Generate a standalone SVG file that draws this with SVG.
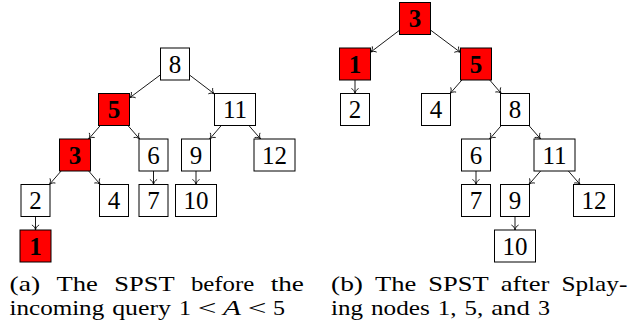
<svg xmlns="http://www.w3.org/2000/svg" width="630" height="324" viewBox="0 0 630 324" font-family="'Liberation Serif', 'DejaVu Serif', serif">
  <defs>
    <style>
      .box { stroke: #000; stroke-width: 1; }
      .w { fill: #fff; }
      .r { fill: #f00; }
      .lbl { font-family: 'Liberation Serif', 'DejaVu Serif', serif; font-size: 25px; text-anchor: middle; fill: #000; }
      .bold { font-weight: bold; }
      .edge { stroke: #000; stroke-width: 0.9; fill: none; marker-end: url(#tip); }
      .cap { font-family: 'Liberation Serif', 'DejaVu Serif', serif; font-size: 21.5px; fill: #000; }
      .it { font-style: italic; }
    </style>
    <!-- open "to" style arrow tip -->
    <marker id="tip" markerUnits="userSpaceOnUse" viewBox="-7 -5 10 10" markerWidth="10" markerHeight="10" refX="0" refY="0" orient="auto" overflow="visible">
      <path d="M-5,-3.6 C-4,-1.4 -1.9,-0.4 0,0 C-1.9,0.4 -4,1.4 -5,3.6" fill="none" stroke="#000" stroke-width="0.85"/>
    </marker>
  </defs>

  <!-- (a) tree before the query -->
  <g id="a-edges">
    <line class="edge" x1="160.5" y1="74.8" x2="129.5" y2="97.9"/>
    <line class="edge" x1="189.5" y1="75" x2="214.5" y2="94"/>
    <line class="edge" x1="100.3" y1="125.5" x2="88.7" y2="139"/>
    <line class="edge" x1="127.9" y1="125.5" x2="139.6" y2="139"/>
    <line class="edge" x1="221.3" y1="125.5" x2="209.7" y2="139"/>
    <line class="edge" x1="248.9" y1="125.5" x2="260.6" y2="139"/>
    <line class="edge" x1="61.1" y1="171" x2="49.4" y2="184.5"/>
    <line class="edge" x1="88.7" y1="171" x2="100.3" y2="184.5"/>
    <line class="edge" x1="153.5" y1="171" x2="153.5" y2="184.5"/>
    <line class="edge" x1="196" y1="171" x2="196" y2="184.5"/>
    <line class="edge" x1="35.5" y1="216.5" x2="35.5" y2="230"/>
  </g>
  <g id="a-n8"><rect class="box w" x="160.5" y="48" width="29" height="32"/><text class="lbl" x="175" y="72.5">8</text></g>
  <g id="a-n5"><rect class="box r" x="98.5" y="93.5" width="31" height="32"/><text class="lbl bold" x="114" y="118">5</text></g>
  <g id="a-n11"><rect class="box w" x="214.5" y="93.5" width="41" height="32"/><text class="lbl" x="235" y="118">11</text></g>
  <g id="a-n3"><rect class="box r" x="59.5" y="139" width="31" height="32"/><text class="lbl bold" x="75" y="163.5">3</text></g>
  <g id="a-n6"><rect class="box w" x="139" y="139" width="29" height="32"/><text class="lbl" x="153.5" y="163.5">6</text></g>
  <g id="a-n9"><rect class="box w" x="181.5" y="139" width="29" height="32"/><text class="lbl" x="196" y="163.5">9</text></g>
  <g id="a-n12"><rect class="box w" x="254" y="139" width="41" height="32"/><text class="lbl" x="274.5" y="163.5">12</text></g>
  <g id="a-n2"><rect class="box w" x="21" y="184.5" width="29" height="32"/><text class="lbl" x="35.5" y="209">2</text></g>
  <g id="a-n4"><rect class="box w" x="99.5" y="184.5" width="29" height="32"/><text class="lbl" x="114" y="209">4</text></g>
  <g id="a-n7"><rect class="box w" x="139" y="184.5" width="29" height="32"/><text class="lbl" x="153.5" y="209">7</text></g>
  <g id="a-n10"><rect class="box w" x="175.5" y="184.5" width="41" height="32"/><text class="lbl" x="196" y="209">10</text></g>
  <g id="a-n1"><rect class="box r" x="20" y="230" width="31" height="32"/><text class="lbl bold" x="35.5" y="254.5">1</text></g>

  <!-- (b) tree after splaying -->
  <g id="b-edges">
    <line class="edge" x1="399.5" y1="30.25" x2="370.5" y2="52.25"/>
    <line class="edge" x1="430.5" y1="30.06" x2="460.5" y2="52.44"/>
    <line class="edge" x1="355" y1="80" x2="355" y2="93.5"/>
    <line class="edge" x1="461.9" y1="80" x2="450.1" y2="93.5"/>
    <line class="edge" x1="489.7" y1="80" x2="501.3" y2="93.5"/>
    <line class="edge" x1="501.3" y1="125.5" x2="489.7" y2="139"/>
    <line class="edge" x1="528.9" y1="125.5" x2="540.6" y2="139"/>
    <line class="edge" x1="476" y1="171" x2="476" y2="184.5"/>
    <line class="edge" x1="540.6" y1="171" x2="528.9" y2="184.5"/>
    <line class="edge" x1="568.4" y1="171" x2="580.1" y2="184.5"/>
    <line class="edge" x1="515" y1="216.5" x2="515" y2="230"/>
  </g>
  <g id="b-n3"><rect class="box r" x="399.5" y="2.5" width="31" height="32"/><text class="lbl bold" x="415" y="27">3</text></g>
  <g id="b-n1"><rect class="box r" x="339.5" y="48" width="31" height="32"/><text class="lbl bold" x="355" y="72.5">1</text></g>
  <g id="b-n5"><rect class="box r" x="460.5" y="48" width="31" height="32"/><text class="lbl bold" x="476" y="72.5">5</text></g>
  <g id="b-n2"><rect class="box w" x="340.5" y="93.5" width="29" height="32"/><text class="lbl" x="355" y="118">2</text></g>
  <g id="b-n4"><rect class="box w" x="421.5" y="93.5" width="29" height="32"/><text class="lbl" x="436" y="118">4</text></g>
  <g id="b-n8"><rect class="box w" x="500.5" y="93.5" width="29" height="32"/><text class="lbl" x="515" y="118">8</text></g>
  <g id="b-n6"><rect class="box w" x="461.5" y="139" width="29" height="32"/><text class="lbl" x="476" y="163.5">6</text></g>
  <g id="b-n11"><rect class="box w" x="534" y="139" width="41" height="32"/><text class="lbl" x="554.5" y="163.5">11</text></g>
  <g id="b-n7"><rect class="box w" x="461.5" y="184.5" width="29" height="32"/><text class="lbl" x="476" y="209">7</text></g>
  <g id="b-n9"><rect class="box w" x="500.5" y="184.5" width="29" height="32"/><text class="lbl" x="515" y="209">9</text></g>
  <g id="b-n12"><rect class="box w" x="573.5" y="184.5" width="41" height="32"/><text class="lbl" x="594" y="209">12</text></g>
  <g id="b-n10"><rect class="box w" x="494.5" y="230" width="41" height="32"/><text class="lbl" x="515" y="254.5">10</text></g>

  <!-- sub-captions, justified word by word -->
  <g id="caption-a">
    <text class="cap" x="9.5" y="291" textLength="30.7" lengthAdjust="spacingAndGlyphs">(a)</text>
    <text class="cap" x="56.5" y="291" textLength="41.3" lengthAdjust="spacingAndGlyphs">The</text>
    <text class="cap" x="114.2" y="291" textLength="60.4" lengthAdjust="spacingAndGlyphs">SPST</text>
    <text class="cap" x="190.9" y="291" textLength="63.4" lengthAdjust="spacingAndGlyphs">before</text>
    <text class="cap" x="270.7" y="291" textLength="33.3" lengthAdjust="spacingAndGlyphs">the</text>
    <text class="cap" x="9.5" y="315" textLength="94.7" lengthAdjust="spacingAndGlyphs">incoming</text>
    <text class="cap" x="112.2" y="315" textLength="58.8" lengthAdjust="spacingAndGlyphs">query</text>
    <text class="cap" x="179" y="315" textLength="12" lengthAdjust="spacingAndGlyphs">1</text>
    <text class="cap" x="197.7" y="315" textLength="18.7" lengthAdjust="spacingAndGlyphs">&lt;</text>
    <text class="cap it" x="223" y="315" textLength="18" lengthAdjust="spacingAndGlyphs">A</text>
    <text class="cap" x="247.7" y="315" textLength="18.7" lengthAdjust="spacingAndGlyphs">&lt;</text>
    <text class="cap" x="273" y="315" textLength="12" lengthAdjust="spacingAndGlyphs">5</text>
  </g>
  <g id="caption-b">
    <text class="cap" x="331" y="291" textLength="32" lengthAdjust="spacingAndGlyphs">(b)</text>
    <text class="cap" x="375" y="291" textLength="41.3" lengthAdjust="spacingAndGlyphs">The</text>
    <text class="cap" x="428.3" y="291" textLength="60.4" lengthAdjust="spacingAndGlyphs">SPST</text>
    <text class="cap" x="500.7" y="291" textLength="48.7" lengthAdjust="spacingAndGlyphs">after</text>
    <text class="cap" x="561.4" y="291" textLength="66" lengthAdjust="spacingAndGlyphs">Splay-</text>
    <text class="cap" x="331" y="315" textLength="32" lengthAdjust="spacingAndGlyphs">ing</text>
    <text class="cap" x="371" y="315" textLength="58.8" lengthAdjust="spacingAndGlyphs">nodes</text>
    <text class="cap" x="437.8" y="315" textLength="18.7" lengthAdjust="spacingAndGlyphs">1,</text>
    <text class="cap" x="464.5" y="315" textLength="18.7" lengthAdjust="spacingAndGlyphs">5,</text>
    <text class="cap" x="491.2" y="315" textLength="38.7" lengthAdjust="spacingAndGlyphs">and</text>
    <text class="cap" x="537.9" y="315" textLength="12" lengthAdjust="spacingAndGlyphs">3</text>
  </g>
</svg>
